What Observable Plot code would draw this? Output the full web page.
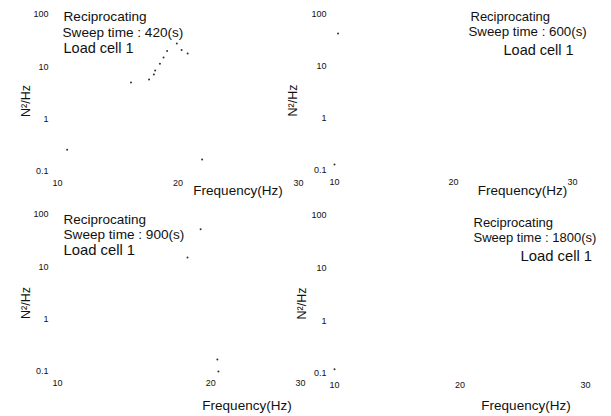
<!DOCTYPE html>
<html>
<head>
<meta charset="utf-8">
<script src="https://cdn.jsdelivr.net/npm/d3@7"></script>
<script src="https://cdn.jsdelivr.net/npm/@observablehq/plot@0.6"></script>
<style>
  html, body { margin: 0; padding: 0; background: #fff; }
  #wrap { position: relative; width: 611px; height: 416px; overflow: hidden; font-family: "Liberation Sans", Arial, sans-serif; }
  .panel { position: absolute; }
</style>
</head>
<body>
<div id="wrap"></div>
<script>
// ---- data ----
const xTicks = [10, 20, 30];
const yTicks = [0.1, 1, 10, 100];
const sweepTimes = [420, 600, 900, 1800];

// panel 1: sweep 420 s
const freq420 = [10.8, 16.1, 17.6, 18.0, 18.1, 18.5, 18.8, 19.1, 19.9, 20.3, 20.8, 22.0];
const psd420  = [0.26, 5.0, 5.7, 7.1, 8.5, 11.5, 15, 20, 28, 21, 18, 0.17];
// panel 2: sweep 600 s
const freq600 = [10.3, 10.0];
const psd600  = [43, 0.13];
// panel 3: sweep 900 s
const freq900 = [19.1, 18.0, 20.6, 20.7];
const psd900  = [52, 15, 0.17, 0.1];
// panel 4: sweep 1800 s
const freq1800 = [10.0];
const psd1800  = [0.12];

const series = [freq420, freq600, freq900, freq1800].map((f, i) =>
  f.map((x, j) => ({x, y: [psd420, psd600, psd900, psd1800][i][j]})));

// layout (positions / styles only)
const layout = [
  {left: 0,   top: 0,   width: 305, height: 200, mL: 57, mR: 7,  mT: 14, mB: 29, xType: "linear",
   ylabDx: -32, ylabDy: 24, xlabDx: 60, xlabDy: 19, pad: 9,
   ann: [[6, 2, 13.6], [5, 18, 13.6], [6, 34, 14.5]]},
  {left: 280, top: 0,   width: 331, height: 200, mL: 54, mR: 39, mT: 14, mB: 30, xType: "linear",
   ylabDx: -42, ylabDy: 24, xlabDx: 69, xlabDy: 20, pad: 8,
   ann: [[136, 2.5, 13], [134, 17, 13.3], [169, 36, 14.5]]},
  {left: 0,   top: 200, width: 305, height: 216, mL: 57, mR: 5,  mT: 14, mB: 45, xType: "log",
   ylabDx: -32, ylabDy: 26, xlabDx: 68, xlabDy: 34, pad: 9,
   ann: [[6, 5.5, 13.5], [6, 20.5, 13.6], [6, 35.5, 14.8]]},
  {left: 280, top: 200, width: 331, height: 216, mL: 54, mR: 26, mT: 15, mB: 43, xType: "linear",
   ylabDx: -33, ylabDy: 25, xlabDx: 66, xlabDy: 32, pad: 8,
   ann: [[139, 7, 13], [139, 22, 13], [186, 41, 14.8]]}
];

const wrap = document.getElementById("wrap");
layout.forEach((L, i) => {
  const lines = ["Reciprocating", `Sweep time : ${sweepTimes[i]}(s)`, "Load cell 1"];
  const chart = Plot.plot({
    width: L.width, height: L.height,
    marginLeft: L.mL, marginRight: L.mR, marginTop: L.mT, marginBottom: L.mB,
    style: {fontFamily: "'Liberation Sans', Arial, sans-serif", fontSize: "9px", overflow: "visible", background: "transparent", color: "#111"},
    x: {type: L.xType, domain: [10, 30]},
    y: {type: "log", domain: [0.1, 100]},
    marks: [
      Plot.axisX({ticks: xTicks, tickSize: 0, tickPadding: 8, tickFormat: d => String(d), label: null}),
      Plot.axisY({ticks: yTicks, tickSize: 0, tickPadding: L.pad, tickFormat: d => String(d), label: null}),
      Plot.dot(series[i], {x: "x", y: "y", r: 1, fill: "#333", stroke: "none"}),
      Plot.text(["N²/Hz"], {frameAnchor: "left", rotate: -90, dx: L.ylabDx, dy: L.ylabDy, fontSize: 12.5}),
      Plot.text(["Frequency(Hz)"], {frameAnchor: "bottom", dx: L.xlabDx, dy: L.xlabDy, fontSize: 13.5, lineAnchor: "middle"}),
      ...lines.map((t, k) => Plot.text([t], {frameAnchor: "top-left", textAnchor: "start", lineAnchor: "middle",
        dx: L.ann[k][0], dy: L.ann[k][1], fontSize: L.ann[k][2]}))
    ]
  });
  const div = document.createElement("div");
  div.className = "panel";
  div.style.left = L.left + "px";
  div.style.top = L.top + "px";
  div.appendChild(chart);
  wrap.appendChild(div);
});
</script>
</body>
</html>
